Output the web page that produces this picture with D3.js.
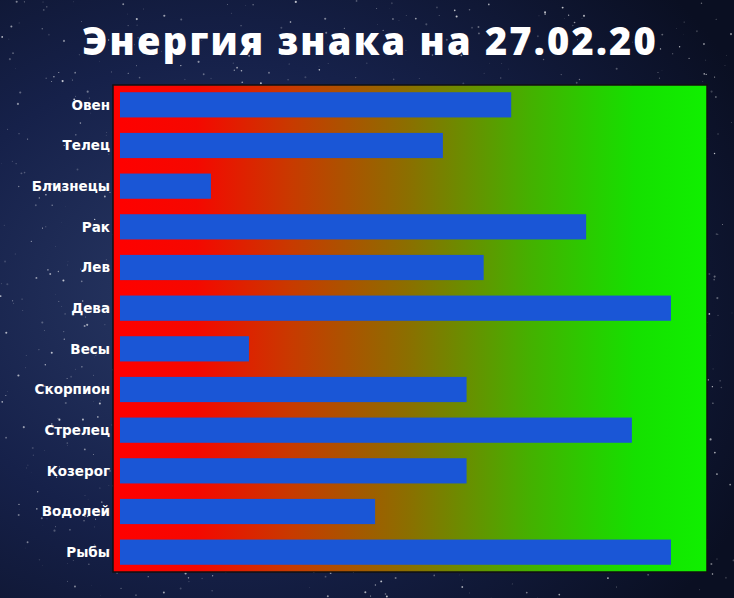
<!DOCTYPE html>
<html><head><meta charset="utf-8">
<script src="https://cdn.jsdelivr.net/npm/d3@7"></script>
<style>body{margin:0;background:#0d1530}</style></head>
<body><svg id="c" width="734" height="598"></svg>
<script>
const categories=["Овен","Телец","Близнецы","Рак","Лев","Дева","Весы","Скорпион","Стрелец","Козерог","Водолей","Рыбы"];
const values=[71,58.6,16.5,84.6,66,100,23.4,62.9,92.9,62.9,46.3,100];
const title="Энергия знака на 27.02.20";

const svg=d3.select("#c");
const defs=svg.append("defs");
const bg=defs.append("radialGradient").attr("id","bg").attr("cx","30%").attr("cy","50%").attr("r","80%");
bg.append("stop").attr("offset","0%").attr("stop-color","#2a3a66");
bg.append("stop").attr("offset","50%").attr("stop-color","#16214a");
bg.append("stop").attr("offset","100%").attr("stop-color","#0a0f22");
svg.append("rect").attr("width",734).attr("height",598).attr("fill","url(#bg)");
let s=12345;const rnd=()=>{s=(s*1103515245+12345)%2147483648;return s/2147483648;};
const stars=svg.append("g");
for(let i=0;i<1200;i++){stars.append("circle").attr("cx",rnd()*734).attr("cy",rnd()*598).attr("r",rnd()*0.9+0.2).attr("fill","#fff").attr("opacity",rnd()*0.6+0.15);}

const g=defs.append("linearGradient").attr("id","pg");
[[0,"#ff0000"],[0.14,"#f50800"],[0.3,"#c83a00"],[0.5,"#8a7000"],[0.7,"#45b000"],[0.88,"#15e000"],[1,"#10f000"]]
 .forEach(([o,c])=>g.append("stop").attr("offset",o).attr("stop-color",c));

const L=113,T=85,R=707,B=572;
svg.append("rect").attr("x",L).attr("y",T).attr("width",R-L).attr("height",B-T).attr("fill","url(#pg)").attr("stroke","#111").attr("stroke-width",1.5);

const x=d3.scaleLinear().domain([0,100]).range([120,671]);
const y=d3.scaleBand().domain(categories).range([T-0.5,B+0.5]).paddingInner(0.38).paddingOuter(0.19);
svg.selectAll(".bar").data(categories).join("rect")
 .attr("x",x(0)).attr("y",d=>y(d)).attr("height",y.bandwidth())
 .attr("width",(d,i)=>x(values[i])-x(0)).attr("fill","#1a56d6");

svg.selectAll(".lab").data(categories).join("text")
 .attr("x",L-3).attr("y",d=>y(d)+y.bandwidth()/2).attr("dy","0.35em")
 .attr("text-anchor","end").attr("fill","#fff").attr("font-family","DejaVu Sans").attr("font-weight",700).attr("font-size",13.5)
 .text(d=>d);

svg.append("text").attr("x",370).attr("y",55).attr("text-anchor","middle").attr("fill","#fff")
 .attr("font-family","Open Sans, Arial").attr("font-weight",800).attr("font-size",38).attr("letter-spacing",2.2).text(title);
</script></body></html>
